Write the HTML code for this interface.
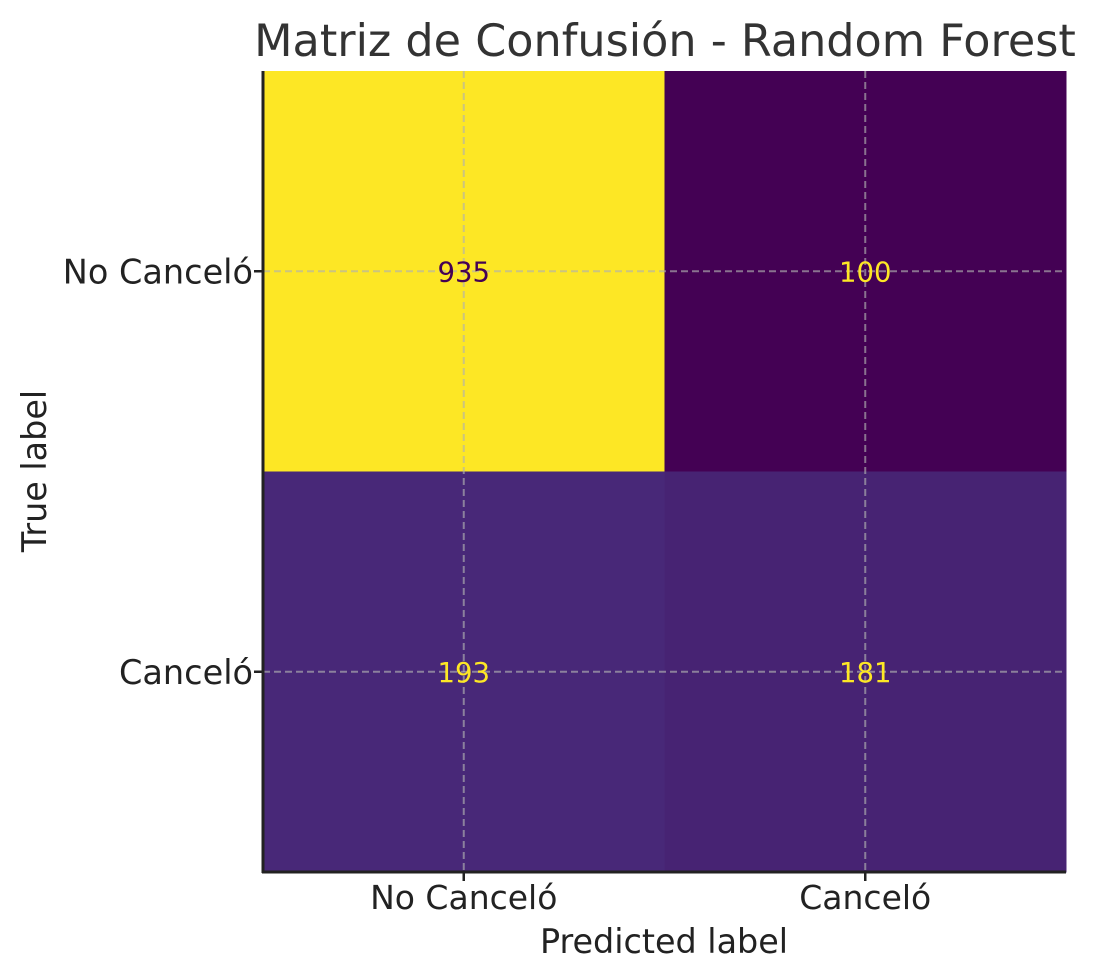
<!DOCTYPE html>
<html><head><meta charset="utf-8"><style>body{margin:0;background:#fff}svg{display:block;font-family:"DejaVu Sans","Liberation Sans",sans-serif}</style></head>
<body>
<svg id="chart" width="1095" height="980" viewBox="0 0 1095 980" xmlns="http://www.w3.org/2000/svg">
<text x="665" y="56" text-anchor="middle" font-size="44.5" fill="#333">Matriz de Confusión - Random Forest</text>
<g id="cells"></g>
<g id="grid"></g>
<g id="labels"></g>
<g id="axes"></g>
<text x="664" y="953" text-anchor="middle" font-size="33.4" fill="#222">Predicted label</text>
<text transform="translate(46,471) rotate(-90)" text-anchor="middle" font-size="33.4" fill="#222">True label</text>
</svg>
<script>
const categories = ["No Canceló", "Canceló"];
const matrix = [[935, 100], [193, 181]];

const NS = "http://www.w3.org/2000/svg";
const L = 263, T = 71, R = 1066, B = 872;
const cw = (R - L) / categories.length, ch = (B - T) / categories.length;
const xPos = i => L + cw * (i + 0.5);
const yPos = i => T + ch * (i + 0.5);
const flat = matrix.flat();
const vmin = Math.min(...flat), vmax = Math.max(...flat);
const viridis = [[68,1,84],[72,40,120],[62,74,137],[49,104,142],[38,130,142],[31,158,137],[53,183,121],[109,205,89],[180,222,44],[253,231,37]];
function cmap(v){
  let t = (v - vmin) / (vmax - vmin || 1); t = Math.max(0, Math.min(1, t));
  const p = t * (viridis.length - 1), i = Math.min(Math.floor(p), viridis.length - 2), f = p - i;
  const c = viridis[i].map((a, k) => Math.round(a + (viridis[i+1][k] - a) * f));
  return `rgb(${c[0]},${c[1]},${c[2]})`;
}
function mk(tag, attrs, parent){ const e = document.createElementNS(NS, tag); for (const k in attrs) e.setAttribute(k, attrs[k]); parent.appendChild(e); return e; }
const gc = document.getElementById('cells'), gg = document.getElementById('grid'), gl = document.getElementById('labels'), ga = document.getElementById('axes');
matrix.forEach((row, r) => row.forEach((v, c) => {
  const rect = mk('rect', {x: L + c * cw, y: T + r * ch, width: cw + 0.5, height: ch + 0.5, fill: cmap(v)}, gc);
  
  
  const t = (v - vmin) / (vmax - vmin || 1);
  const tx = mk('text', {x: xPos(c), y: yPos(r) + 10, 'text-anchor': 'middle', 'font-size': 27.5, fill: t > 0.5 ? '#440154' : '#fde725'}, gl);
  tx.textContent = v;
  
  
}));
categories.forEach((cat, i) => {
  const vl = mk('line', {x1: xPos(i), x2: xPos(i), y1: T, y2: B, stroke: '#b0b0b0', 'stroke-opacity': 0.65, 'stroke-width': 2, 'stroke-dasharray': '7,4'}, gg);
  
  
  const hl = mk('line', {x1: L, x2: R, y1: yPos(i), y2: yPos(i), stroke: '#b0b0b0', 'stroke-opacity': 0.65, 'stroke-width': 2, 'stroke-dasharray': '7,4'}, gg);
  
  
  const xt = mk('line', {x1: xPos(i), x2: xPos(i), y1: B, y2: B + 9, stroke: '#222', 'stroke-width': 2.5}, ga);
  
  
  const yt = mk('line', {x1: L - 9, x2: L, y1: yPos(i), y2: yPos(i), stroke: '#222', 'stroke-width': 2.5}, ga);
  
  
  const xl = mk('text', {x: xPos(i), y: B + 37, 'text-anchor': 'middle', 'font-size': 33, fill: '#222'}, ga);
  xl.textContent = cat;
  
  
  const yl = mk('text', {x: L - 10, y: yPos(i) + 12, 'text-anchor': 'end', 'font-size': 33.5, fill: '#222'}, ga);
  yl.textContent = cat;
  
  
});
const sl = mk('line', {x1: L, x2: L, y1: T, y2: B + 1, stroke: '#222', 'stroke-width': 3}, ga);


const sb = mk('line', {x1: L - 1, x2: R, y1: B, y2: B, stroke: '#222', 'stroke-width': 3}, ga);


</script>
</body></html>
